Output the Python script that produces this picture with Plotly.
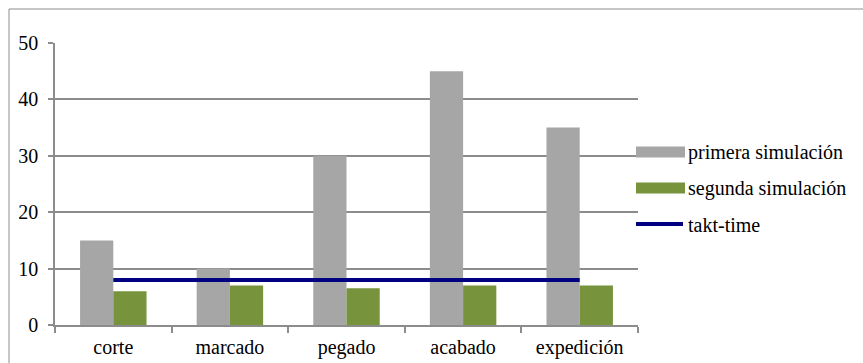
import plotly.graph_objects as go

categories = ["corte", "marcado", "pegado", "acabado", "expedición"]
primera = [15, 10, 30, 45, 35]
segunda = [6, 7, 6.5, 7, 7]
takt = [8, 8, 8, 8, 8]
series_names = ["primera simulación", "segunda simulación", "takt-time"]
y_ticks = [0, 10, 20, 30, 40, 50]

GRAY = "#A6A6A6"
GREEN = "#77933C"
NAVY = "#000080"
AXIS = "#8C8C8C"
FONT = "Liberation Serif, Times New Roman, serif"

fig = go.Figure()
fig.add_trace(go.Bar(x=categories, y=primera, name=series_names[0],
                     marker=dict(color=GRAY, line=dict(width=0))))
fig.add_trace(go.Bar(x=categories, y=segunda, name=series_names[1],
                     marker=dict(color=GREEN, line=dict(width=0))))
fig.add_trace(go.Scatter(x=categories, y=takt, name=series_names[2], mode="lines",
                         line=dict(color=NAVY, width=4)))

# custom legend (wide symbols like the original)
leg_y = [152, 188, 225]
H = 363
W = 863
shapes = []
annotations = []
for i, name in enumerate(series_names):
    if i < 2:
        shapes.append(dict(type="rect", xref="paper", yref="paper",
                           x0=(636 - 55) / 583, x1=(685 - 55) / 583,
                           y0=(325 - (leg_y[i] + 5.5)) / 282, y1=(325 - (leg_y[i] - 5.5)) / 282,
                           fillcolor=[GRAY, GREEN][i], line=dict(width=0)))
    else:
        shapes.append(dict(type="line", xref="paper", yref="paper",
                           x0=(636 - 55) / 583, x1=(683 - 55) / 583,
                           y0=(325 - (leg_y[i] - 1)) / 282, y1=(325 - (leg_y[i] - 1)) / 282,
                           line=dict(color=NAVY, width=4)))
    annotations.append(dict(text=name, xref="paper", yref="paper",
                            x=(686 - 55) / 583, y=(325 - leg_y[i]) / 282,
                            xanchor="left", yanchor="middle", showarrow=False,
                            font=dict(family=FONT, size=20, color="#000000")))

# outer frame (left and top edges visible)
shapes.append(dict(type="rect", xref="paper", yref="paper",
                   x0=(9 - 55) / 583, x1=(W + 20 - 55) / 583,
                   y0=(325 - (H + 20)) / 282, y1=(325 - 9) / 282,
                   line=dict(color=AXIS, width=1), fillcolor="rgba(0,0,0,0)", layer="below"))

fig.update_layout(
    width=W, height=H,
    margin=dict(l=55, r=225, t=43, b=38, pad=0),
    paper_bgcolor="white", plot_bgcolor="white",
    barmode="group", bargap=0.43, bargroupgap=0,
    showlegend=False,
    font=dict(family=FONT, size=20, color="#000000"),
    shapes=shapes, annotations=annotations,
    xaxis=dict(showline=True, linecolor=AXIS, linewidth=1.5, ticks="outside",
               tickson="boundaries", ticklen=6, tickcolor=AXIS, tickwidth=1.5,
               showgrid=False, ticklabelstandoff=3, automargin=False,
               tickfont=dict(family=FONT, size=20, color="#000000")),
    yaxis=dict(range=[0, 50], tickvals=y_ticks, showline=True, linecolor=AXIS, linewidth=1.5,
               ticks="outside", ticklen=5, tickcolor=AXIS, tickwidth=1.5,
               showgrid=True, gridcolor=AXIS, gridwidth=1.5, zeroline=False,
               ticklabelstandoff=6, automargin=False,
               tickfont=dict(family=FONT, size=20, color="#000000")),
)

fig.write_html("out.html")
